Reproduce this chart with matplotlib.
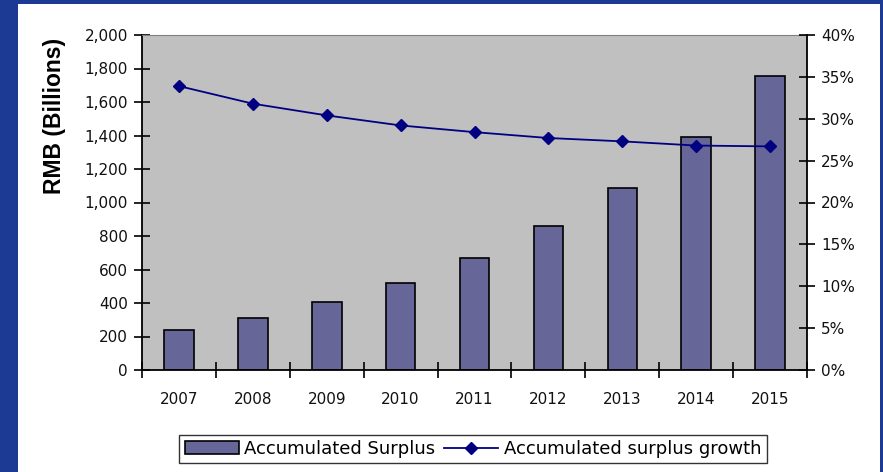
import matplotlib.pyplot as plt
import matplotlib.patches as mpatches
from matplotlib.ticker import FuncFormatter, MultipleLocator
import numpy as np

years = ['2007', '2008', '2009', '2010', '2011', '2012', '2013', '2014', '2015']
surplus = [239, 308, 408, 522, 669, 860, 1087, 1391, 1757]   # RMB billions
growth = [33.9, 31.8, 30.4, 29.2, 28.4, 27.7, 27.3, 26.8, 26.7]  # percent

W, H = 883, 472
fig = plt.figure(figsize=(W / 100, H / 100), dpi=100, facecolor='#1c3a94')

# white panel inside the blue frame
panel = mpatches.Rectangle((18 / W, 0), (880 - 18) / W, (H - 4) / H,
                           transform=fig.transFigure, facecolor='white',
                           edgecolor='none', zorder=-5)
fig.patches.append(panel)

font = 'DejaVu Sans'
ax = fig.add_axes([142 / W, 1 - 370 / H, (807 - 142) / W, (370 - 35) / H])
ax.set_facecolor('#c0c0c0')

x = np.arange(len(years))
ax.bar(x, surplus, width=0.4, color='#666699', edgecolor='black',
       linewidth=1.2, zorder=2, label='Accumulated Surplus')
ax.set_xlim(-0.5, len(years) - 0.5)
ax.set_ylim(0, 2000)
ax.yaxis.set_major_locator(MultipleLocator(200))
ax.yaxis.set_major_formatter(FuncFormatter(lambda v, p: f'{int(v):,}'))

# category ticks sit on the boundaries, labels in the middle
ax.set_xticks(np.arange(len(years) + 1) - 0.5)
ax.set_xticklabels([])
ax.set_xticks(x, minor=True)
ax.set_xticklabels(years, minor=True, fontsize=11, family=font, color='#111111')
ax.tick_params(axis='x', which='minor', length=0, pad=16)
ax.tick_params(axis='x', which='major', direction='inout', length=12, width=1.2)
ax.tick_params(axis='y', direction='inout', length=12, width=1.2, pad=4)
for lab in ax.get_yticklabels():
    lab.set_fontsize(11)
    lab.set_family(font)
    lab.set_color('#111111')

for side in ['left', 'bottom']:
    ax.spines[side].set_color('black')
    ax.spines[side].set_linewidth(1.3)
ax.spines['top'].set_color('#808080')
ax.spines['right'].set_visible(False)

ax2 = ax.twinx()
ax2.plot(x, growth, color='#000080', marker='D', markersize=6.5,
         linewidth=1.3, zorder=3, label='Accumulated surplus growth')
ax2.set_ylim(0, 40)
ax2.yaxis.set_major_locator(MultipleLocator(5))
ax2.yaxis.set_major_formatter(FuncFormatter(lambda v, p: f'{int(v)}%'))
ax2.tick_params(axis='y', direction='inout', length=12, width=1.2, pad=4)
for lab in ax2.get_yticklabels():
    lab.set_fontsize(11)
    lab.set_family(font)
    lab.set_color('#111111')
for side in ['left', 'bottom', 'top']:
    ax2.spines[side].set_visible(False)
ax2.spines['right'].set_color('black')
ax2.spines['right'].set_linewidth(1.3)

fig.text(54 / W, 1 - 116 / H, 'RMB (Billions)', rotation=90, ha='center',
         va='center', fontsize=16.5, fontweight='bold', family='Liberation Sans')

h1, l1 = ax.get_legend_handles_labels()
h2, l2 = ax2.get_legend_handles_labels()
leg = fig.legend(h1 + h2, l1 + l2, loc='center', bbox_to_anchor=(473 / W, 1 - 449 / H),
                 ncol=2, frameon=True, fancybox=False, prop={'family': font, 'size': 13},
                 handlelength=3.0, handletextpad=0.3, columnspacing=0.5,
                 borderpad=0.3, edgecolor='black', borderaxespad=0)
leg.get_frame().set_linewidth(1.0)

fig.savefig('out.png', dpi=100, facecolor=fig.get_facecolor())
